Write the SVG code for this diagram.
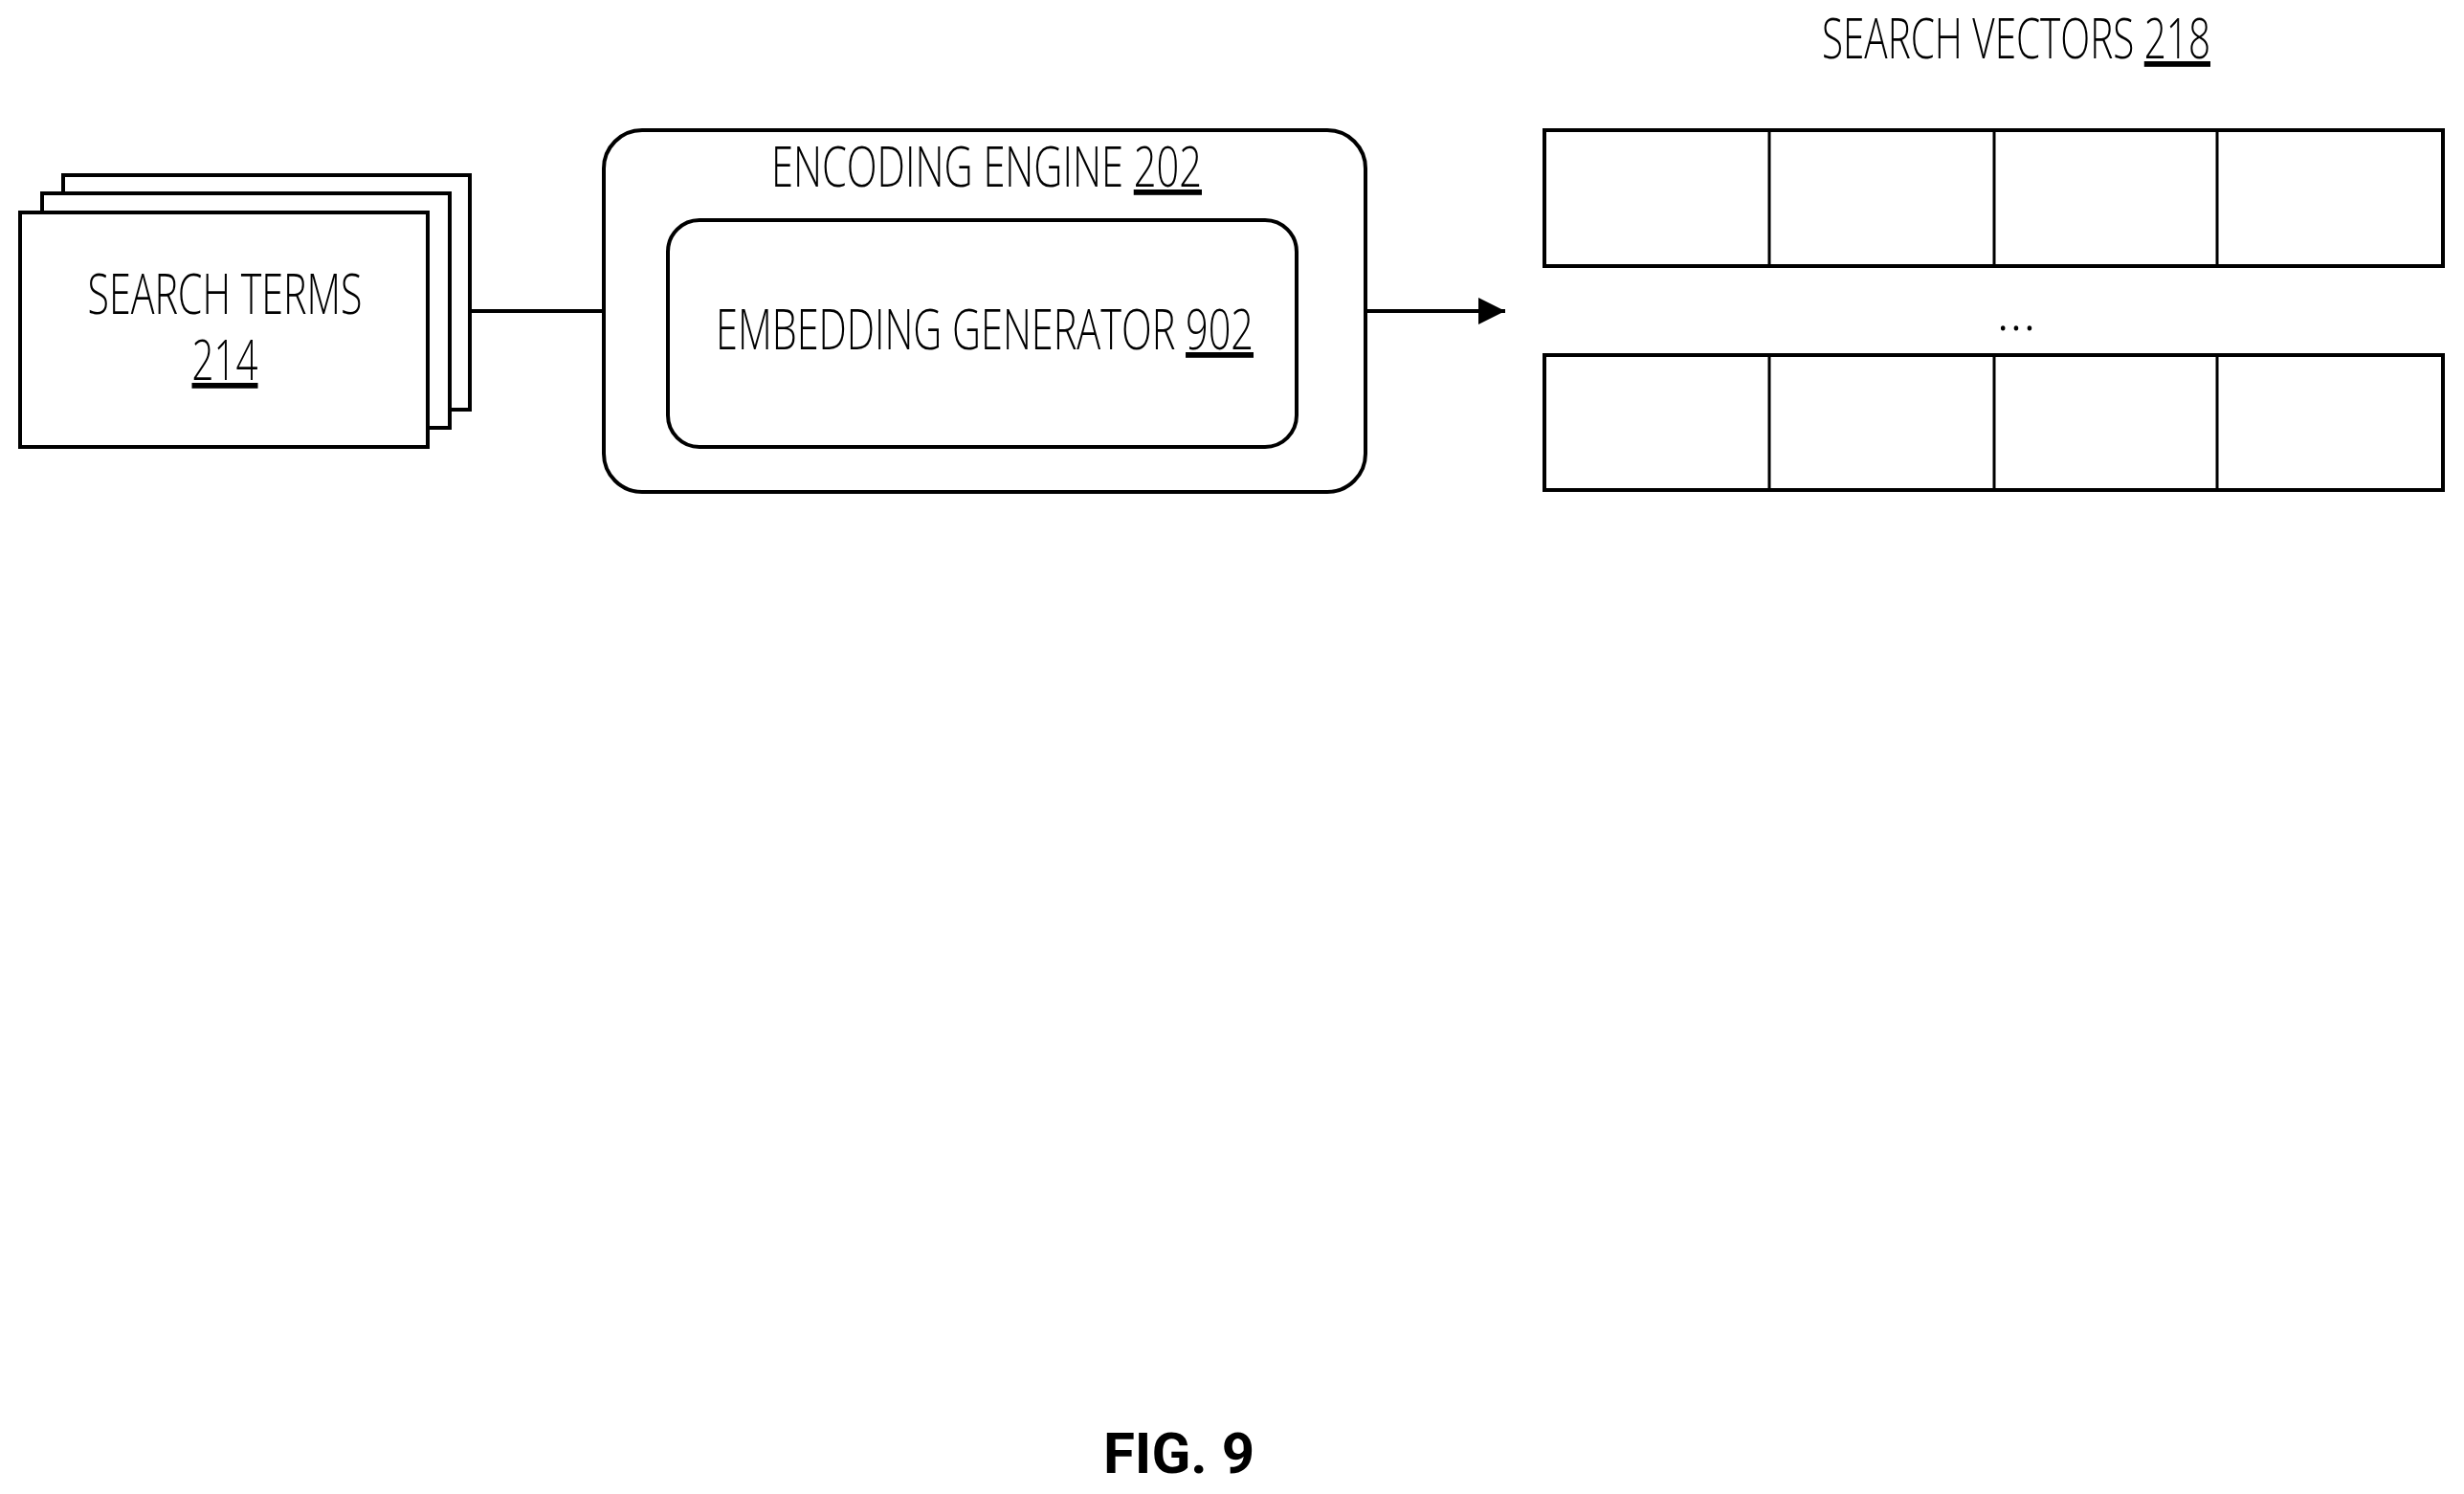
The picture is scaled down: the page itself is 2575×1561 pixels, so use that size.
<svg xmlns="http://www.w3.org/2000/svg" width="2575" height="1561" viewBox="0 0 2575 1561">
<defs>
<style>
.s{fill:#fff;stroke:#000;stroke-width:4}
.t{font-family:"Open Sans","Liberation Sans",sans-serif;font-weight:300;font-size:58px;text-anchor:middle;fill:#000}
.u{text-decoration:underline}
</style>
<marker id="ah" viewBox="0 0 10 10" refX="10" refY="5" markerWidth="8" markerHeight="8" markerUnits="userSpaceOnUse" orient="auto"><path d="M0,0L10,5L0,10z"/></marker>
<marker id="a" viewBox="0 0 10 10" refX="10" refY="5" markerWidth="7" markerHeight="7" orient="auto"><path d="M0,0L10,5L0,10z"/></marker>
</defs>
<rect width="2575" height="1561" fill="#fff"/>
<g id="search-terms">
<rect class="s" x="66" y="183" width="425" height="245"/>
<rect class="s" x="44" y="202" width="426" height="245"/>
<rect class="s" x="21" y="222" width="426" height="245"/>
<text class="t" x="235" y="328" textLength="287" lengthAdjust="spacingAndGlyphs">SEARCH TERMS</text>
<text class="t u" x="235" y="397" textLength="69" lengthAdjust="spacingAndGlyphs">214</text>
</g>
<g id="encoding-engine">
<rect class="s" x="631" y="136" width="796" height="378" rx="40"/>
<text class="t" x="1031" y="195" textLength="450" lengthAdjust="spacingAndGlyphs">ENCODING ENGINE <tspan class="u">202</tspan></text>
</g>
<g id="embedding-generator">
<rect class="s" x="698" y="230" width="657" height="237" rx="33"/>
<text class="t" x="1029" y="365" textLength="562" lengthAdjust="spacingAndGlyphs">EMBEDDING GENERATOR <tspan class="u">902</tspan></text>
</g>
<g id="search-vectors">
<text class="t" x="2107" y="61" textLength="406" lengthAdjust="spacingAndGlyphs">SEARCH VECTORS <tspan class="u">218</tspan></text>
<rect class="s" x="1614" y="136" width="939" height="142"/>
<path d="M1849 136V278M2084 136V278M2317 136V278" stroke="#000" stroke-width="3"/>
<text class="t" x="2107" y="345">...</text>
<rect class="s" x="1614" y="371" width="939" height="141"/>
<path d="M1849 371V512M2084 371V512M2317 371V512" stroke="#000" stroke-width="3"/>
</g>
<g id="connectors" stroke="#000" stroke-width="4" fill="none">
<line x1="491" y1="325" x2="631" y2="325"/>
<line x1="1427" y1="325" x2="1573" y2="325" marker-end="url(#a)"/>
</g>
<text x="1232" y="1539" font-family="Roboto,'Liberation Sans',sans-serif" font-weight="bold" font-size="60" text-anchor="middle">FIG. 9</text>
</svg>
